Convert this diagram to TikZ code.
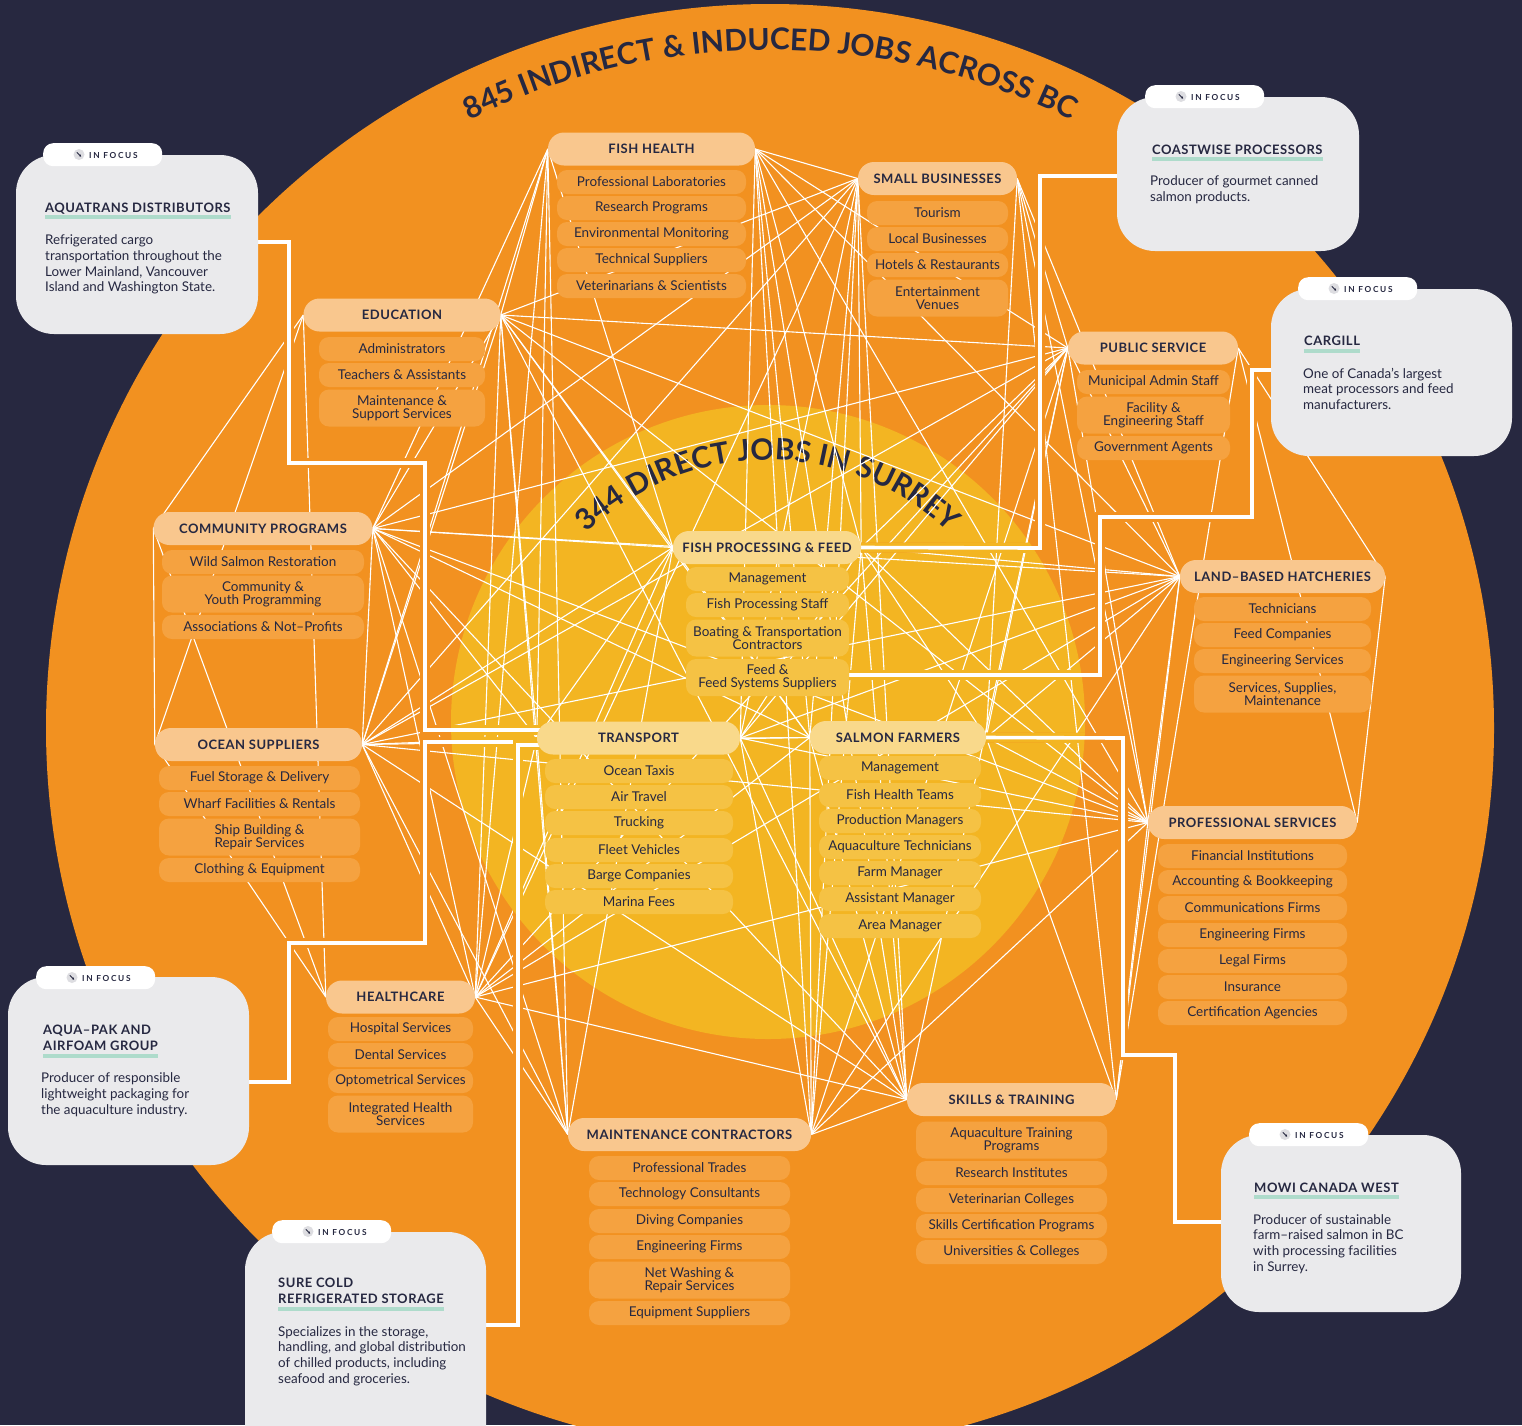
\documentclass[tikz,border=0pt]{standalone}
\usepackage{fontspec}
\setmainfont{Lato}
\usetikzlibrary{decorations.text,arrows.meta}
\definecolor{cNavy}{HTML}{272840}
\definecolor{cOrng}{HTML}{F29120}
\definecolor{cYell}{HTML}{F3B522}
\definecolor{cPeach}{HTML}{F9C78E}
\definecolor{cSubO}{HTML}{F5A240}
\definecolor{cPeachY}{HTML}{F9D98B}
\definecolor{cSubY}{HTML}{F5C244}
\definecolor{cInk}{HTML}{262841}
\definecolor{cCard}{HTML}{EAEAEC}
\definecolor{cMint}{HTML}{AEDBCB}
\definecolor{cIcon}{HTML}{DDDDE1}
\pgfdeclarelayer{bgl}
\pgfdeclarelayer{linel}
\pgfsetlayers{bgl,linel,main}
\newcommand\fHdr{\bfseries\fontsize{13}{14}\selectfont\addfontfeatures{LetterSpace=4}}
\newcommand\fSub{\fontsize{13.5}{13}\selectfont}
\newcommand\fDsc{\fontsize{13.4}{15.7}\selectfont}
\newcommand\fTag{\bfseries\fontsize{8.3}{9}\selectfont\addfontfeatures{LetterSpace=20}}
\newcommand\fArc{\bfseries\fontsize{30}{30}\selectfont}
\newcommand\fArcB{\bfseries\fontsize{29.5}{30}\selectfont}
\newcommand\fatlink[1]{%
  \draw[haloO] #1;
  \begin{scope}\clip (768,-722) circle[radius=317];\draw[haloY] #1;\end{scope}
  \draw[fatline] #1;}
\newcommand\focustag[3]{%
  \node[tagbox,anchor=north west] (#1) at (#2,#3) {};
  \node[iconball] (#1i) at ([shift={(36,-11.5)}]#1.north west) {};
  \draw[cInk,line width=0.8pt,-{Stealth[length=2.4pt,width=2.6pt]}] ([shift={(-2.2,2.2)}]#1i.center) -- ([shift={(2.2,-2.2)}]#1i.center);
  \node[tagtxt,anchor=base west] (#1t) at ([shift={(46,-15)}]#1.north west) {IN FOCUS};}
\begin{document}
\begin{tikzpicture}[x=1pt,y=1pt,
  hdr/.style={fill=cPeach,rounded corners=16pt,minimum height=33pt,inner sep=0pt,font=\fHdr,text=cInk},
  hdry/.style={hdr,fill=cPeachY},
  sub/.style={fill=cSubO,rounded corners=10pt,minimum height=24pt,inner sep=0pt,font=\fSub,text=cInk,align=center},
  subt/.style={sub,minimum height=37pt},
  suby/.style={sub,fill=cSubY},
  subty/.style={subt,fill=cSubY},
  card/.style={fill=cCard,rounded corners=38pt,inner sep=0pt},
  tagbox/.style={fill=white,rounded corners=10pt,minimum width=119pt,minimum height=23pt,inner sep=0pt},
  iconball/.style={circle,fill=cIcon,minimum size=11pt,inner sep=0pt},
  tagtxt/.style={font=\fTag,text=cInk,inner sep=0pt},
  ttl/.style={font=\fHdr,text=cInk,inner sep=0pt,anchor=base west},
  dsc/.style={font=\fDsc,text=cInk,inner sep=0pt,anchor=north west,align=left},
  uline/.style={cMint,line width=4pt},
  webline/.style={white,line width=1.1pt},
  fatline/.style={white,line width=3.6pt},
  haloO/.style={cOrng,line width=10pt},
  haloY/.style={cYell,line width=10pt}]
\useasboundingbox (0,0) rectangle (1522,-1425);
\begin{pgfonlayer}{bgl}
\fill[cNavy] (0,0) rectangle (1522,-1425);
\fill[cOrng] (770,-728) circle[radius=724];
\fill[cYell] (768,-722) circle[radius=317];
\path[decorate,decoration={text along path,text align=center,text={|\fArc\color{cInk}|845 INDIRECT {\&} INDUCED JOBS ACROSS BC}}] (770,-728) ++(130:678) arc[start angle=130,end angle=50,radius=678];
\path[decorate,decoration={text along path,text align=center,text={|\fArcB\color{cInk}|344 DIRECT JOBS IN SURREY}}] (768,-722) ++(155:262) arc[start angle=155,end angle=25,radius=262];
\end{pgfonlayer}

% FISH HEALTH
\node[hdr,minimum width=207pt] (fh) at (651.5,-149) {FISH HEALTH};
\node[sub,minimum width=189pt] (fh1) at (651.5,-182) {Professional Laboratories};
\node[sub,minimum width=189pt] (fh2) at (651.5,-208) {Research Programs};
\node[sub,minimum width=189pt] (fh3) at (651.5,-234) {Environmental Monitoring};
\node[sub,minimum width=189pt] (fh4) at (651.5,-260) {Technical Suppliers};
\node[sub,minimum width=189pt] (fh5) at (651.5,-286) {Veterinarians \& Scientists};
% SMALL BUSINESSES
\node[hdr,minimum width=159pt] (sb) at (937.5,-178.5) {SMALL BUSINESSES};
\node[sub,minimum width=141pt] (sb1) at (937.5,-213) {Tourism};
\node[sub,minimum width=141pt] (sb2) at (937.5,-239) {Local Businesses};
\node[sub,minimum width=141pt] (sb3) at (937.5,-265) {Hotels \& Restaurants};
\node[subt,minimum width=141pt] (sb4) at (937.5,-298) {Entertainment\\Venues};
% EDUCATION
\node[hdr,minimum width=197pt] (ed) at (402,-315) {EDUCATION};
\node[sub,minimum width=166pt] (ed1) at (402,-349) {Administrators};
\node[sub,minimum width=166pt] (ed2) at (402,-375) {Teachers \& Assistants};
\node[subt,minimum width=166pt] (ed3) at (402,-408) {Maintenance \&\\Support Services};
% PUBLIC SERVICE
\node[hdr,minimum width=170pt] (ps) at (1153,-348) {PUBLIC SERVICE};
\node[sub,minimum width=153pt] (ps1) at (1153.5,-382) {Municipal Admin Staff};
\node[subt,minimum width=153pt] (ps2) at (1153.5,-415) {Facility \&\\Engineering Staff};
\node[sub,minimum width=153pt] (ps3) at (1153.5,-448) {Government Agents};
% COMMUNITY PROGRAMS
\node[hdr,minimum width=219pt] (cp) at (263,-528.5) {COMMUNITY PROGRAMS};
\node[sub,minimum width=202pt] (cp1) at (263,-562) {Wild Salmon Restoration};
\node[subt,minimum width=202pt] (cp2) at (263,-594) {Community \&\\Youth Programming};
\node[sub,minimum width=202pt] (cp3) at (263,-627) {Associations \& Not–Profits};
% FISH PROCESSING & FEED
\node[hdry,minimum width=188pt] (fp) at (767,-547.5) {FISH PROCESSING \& FEED};
\node[suby,minimum width=163pt] (fp1) at (767.5,-579) {Management};
\node[suby,minimum width=163pt] (fp2) at (767.5,-605) {Fish Processing Staff};
\node[subty,minimum width=163pt] (fp3) at (767.5,-638) {Boating \& Transportation\\Contractors};
\node[subty,minimum width=163pt] (fp4) at (767.5,-677.5) {Feed \&\\Feed Systems Suppliers};
% LAND-BASED HATCHERIES
\node[hdr,minimum width=205pt] (lb) at (1282.5,-576.5) {LAND–BASED HATCHERIES};
\node[sub,minimum width=177pt] (lb1) at (1282.5,-609) {Technicians};
\node[sub,minimum width=177pt] (lb2) at (1282.5,-635) {Feed Companies};
\node[sub,minimum width=177pt] (lb3) at (1282.5,-661) {Engineering Services};
\node[subt,minimum width=177pt] (lb4) at (1282.5,-694) {Services, Supplies,\\Maintenance};
% OCEAN SUPPLIERS
\node[hdr,minimum width=207pt] (os) at (258.5,-744.5) {OCEAN SUPPLIERS};
\node[sub,minimum width=201pt] (os1) at (259.5,-778) {Fuel Storage \& Delivery};
\node[sub,minimum width=201pt] (os2) at (259.5,-804) {Wharf Facilities \& Rentals};
\node[subt,minimum width=201pt] (os3) at (259.5,-837) {Ship Building \&\\Repair Services};
\node[sub,minimum width=201pt] (os4) at (259.5,-870) {Clothing \& Equipment};
% TRANSPORT
\node[hdry,minimum width=203pt] (tr) at (638.5,-738) {TRANSPORT};
\node[suby,minimum width=188pt] (tr1) at (639,-771) {Ocean Taxis};
\node[suby,minimum width=188pt] (tr2) at (639,-797) {Air Travel};
\node[suby,minimum width=188pt] (tr3) at (639,-823) {Trucking};
\node[suby,minimum width=188pt] (tr4) at (639,-850) {Fleet Vehicles};
\node[suby,minimum width=188pt] (tr5) at (639,-876) {Barge Companies};
\node[suby,minimum width=188pt] (tr6) at (639,-902) {Marina Fees};
% SALMON FARMERS
\node[hdry,minimum width=176pt] (sf) at (898,-737.5) {SALMON FARMERS};
\node[suby,minimum width=162pt] (sf1) at (900,-768) {Management};
\node[suby,minimum width=162pt] (sf2) at (900,-795) {Fish Health Teams};
\node[suby,minimum width=162pt] (sf3) at (900,-821) {Production Managers};
\node[suby,minimum width=162pt] (sf4) at (900,-847) {Aquaculture Technicians};
\node[suby,minimum width=162pt] (sf5) at (900,-873) {Farm Manager};
\node[suby,minimum width=162pt] (sf6) at (900,-899) {Assistant Manager};
\node[suby,minimum width=162pt] (sf7) at (900,-926) {Area Manager};
% PROFESSIONAL SERVICES
\node[hdr,minimum width=209pt] (pr) at (1252.5,-822.5) {PROFESSIONAL SERVICES};
\node[sub,minimum width=189pt] (pr1) at (1252.5,-856) {Financial Institutions};
\node[sub,minimum width=189pt] (pr2) at (1252.5,-882) {Accounting \& Bookkeeping};
\node[sub,minimum width=189pt] (pr3) at (1252.5,-908) {Communications Firms};
\node[sub,minimum width=189pt] (pr4) at (1252.5,-935) {Engineering Firms};
\node[sub,minimum width=189pt] (pr5) at (1252.5,-961) {Legal Firms};
\node[sub,minimum width=189pt] (pr6) at (1252.5,-987) {Insurance};
\node[sub,minimum width=189pt] (pr7) at (1252.5,-1013) {Certification Agencies};
% HEALTHCARE
\node[hdr,minimum width=149pt] (hc) at (400.5,-997) {HEALTHCARE};
\node[sub,minimum width=145pt] (hc1) at (400.5,-1029) {Hospital Services};
\node[sub,minimum width=145pt] (hc2) at (400.5,-1055) {Dental Services};
\node[sub,minimum width=145pt] (hc3) at (400.5,-1081) {Optometrical Services};
\node[subt,minimum width=145pt] (hc4) at (400.5,-1114) {Integrated Health\\Services};
% SKILLS & TRAINING
\node[hdr,minimum width=209pt] (st) at (1011.5,-1099.5) {SKILLS \& TRAINING};
\node[subt,minimum width=191pt] (st1) at (1011.5,-1140) {Aquaculture Training\\Programs};
\node[sub,minimum width=191pt] (st2) at (1011.5,-1173) {Research Institutes};
\node[sub,minimum width=191pt] (st3) at (1011.5,-1200) {Veterinarian Colleges};
\node[sub,minimum width=191pt] (st4) at (1011.5,-1226) {Skills Certification Programs};
\node[sub,minimum width=191pt] (st5) at (1011.5,-1252) {Universities \& Colleges};
% MAINTENANCE CONTRACTORS
\node[hdr,minimum width=243pt] (mc) at (689.5,-1134.5) {MAINTENANCE CONTRACTORS};
\node[sub,minimum width=201pt] (mc1) at (689.5,-1168) {Professional Trades};
\node[sub,minimum width=201pt] (mc2) at (689.5,-1194) {Technology Consultants};
\node[sub,minimum width=201pt] (mc3) at (689.5,-1221) {Diving Companies};
\node[sub,minimum width=201pt] (mc4) at (689.5,-1247) {Engineering Firms};
\node[subt,minimum width=201pt] (mc5) at (689.5,-1280) {Net Washing \&\\Repair Services};
\node[sub,minimum width=201pt] (mc6) at (689.5,-1313) {Equipment Suppliers};

% IN FOCUS cards
\node[card,minimum width=242pt,minimum height=179pt] (aq) at (137,-244.5) {};
\node[card,minimum width=242pt,minimum height=154pt] (cw) at (1238,-174) {};
\node[card,minimum width=241pt,minimum height=167pt] (cg) at (1391.5,-372.5) {};
\node[card,minimum width=241pt,minimum height=188pt] (ap) at (128.5,-1071) {};
\node[card,minimum width=241pt,minimum height=238pt] (sc) at (365.5,-1351) {};
\node[card,minimum width=240pt,minimum height=177pt] (mw) at (1341,-1223.5) {};
\focustag{aqtag}{43}{-143}
\focustag{cwtag}{1145}{-85}
\focustag{cgtag}{1298}{-277}
\focustag{aptag}{36}{-966}
\focustag{sctag}{272}{-1220}
\focustag{mwtag}{1249}{-1123}

\node[ttl] (aqT) at (45,-212) {AQUATRANS DISTRIBUTORS};
\draw[uline] ([yshift=-5pt]aqT.base west) -- ([yshift=-5pt]aqT.base east);
\node[dsc] (aqD) at (45,-234.7) {Refrigerated cargo\\transportation throughout the\\Lower Mainland, Vancouver\\Island and Washington State.};

\node[ttl] (cwT) at (1152,-154) {COASTWISE PROCESSORS};
\draw[uline] ([yshift=-5pt]cwT.base west) -- ([yshift=-5pt]cwT.base east);
\node[dsc] (cwD) at (1150,-175.7) {Producer of gourmet canned\\salmon products.};

\node[ttl] (cgT) at (1304,-345) {CARGILL};
\draw[uline] ([yshift=-6pt]cgT.base west) -- ([yshift=-6pt]cgT.base east);
\node[dsc] (cgD) at (1303,-367.7) {One of Canada’s largest\\meat processors and feed\\manufacturers.};

\node[ttl] (apT1) at (43,-1034) {AQUA–PAK AND};
\node[ttl] (apT2) at (43,-1050) {AIRFOAM GROUP};
\draw[uline] ([yshift=-6pt]apT2.base west) -- ([yshift=-6pt]apT2.base east);
\node[dsc] (apD) at (41,-1072.7) {Producer of responsible\\lightweight packaging for\\the aquaculture industry.};

\node[ttl] (scT1) at (278,-1287) {SURE COLD};
\node[ttl] (scT2) at (278,-1303) {REFRIGERATED STORAGE};
\draw[uline] ([yshift=-6pt]scT2.base west) -- ([yshift=-6pt]scT2.base east);
\node[dsc] (scD) at (278,-1326) {Specializes in the storage,\\handling, and global distribution\\of chilled products, including\\seafood and groceries.};

\node[ttl] (mwT) at (1254,-1192) {MOWI CANADA WEST};
\draw[uline] ([yshift=-5pt]mwT.base west) -- ([yshift=-5pt]mwT.base east);
\node[dsc] (mwD) at (1253,-1214) {Producer of sustainable\\farm–raised salmon in BC\\with processing facilities\\in Surrey.};

\begin{pgfonlayer}{linel}
\foreach \a/\b in {os/cp,os/hc,os/ed,cp/hc,cp/ed,hc/ed,tr/fh,tr/mc,tr/fp,fh/mc,fh/fp,mc/fp,fp/sf,sf/sb,sf/st,sb/st,st/ps,ps/pr,ps/lb,pr/lb}{
  \draw[webline] (\a.west) -- (\b.west);
  \draw[webline] (\a.east) -- (\b.east);}
\foreach \a in {os,cp,hc,ed}{\foreach \b in {tr,fh,mc,fp,sf,sb,st,ps,pr,lb}{\draw[webline] (\a.east) -- (\b.west);}}
\foreach \a in {tr,fh,mc}{\foreach \b in {sf,sb,st,ps,pr,lb}{\draw[webline] (\a.east) -- (\b.west);}}
\foreach \b in {sb,st,ps,pr,lb}{\draw[webline] (fp.east) -- (\b.west);}
\foreach \a in {sf,sb}{\foreach \b in {ps,pr,lb}{\draw[webline] (\a.east) -- (\b.west);}}
\foreach \b in {pr,lb}{\draw[webline] (st.east) -- (\b.west);}
\fatlink{(aq.east |- 0,-242) -| (289,-463) -| (425,-730) -- (545,-730)}
\fatlink{(ap.east |- 0,-1082) -| (289,-943) -| (425,-742) -- (545,-742)}
\fatlink{(sc.east |- 0,-1325) -| (518,-745) -- (545,-745)}
\fatlink{(cw.west |- 0,-176) -| (1040,-548) -- (fp.east)}
\fatlink{(cg.west |- 0,-370) -| (1252,-517) -| (1100,-675) -- (fp4.east |- 0,-675)}
\fatlink{(mw.west |- 0,-1222) -| (1175,-1055) -| (1123,-738) -- (sf.east)}
\end{pgfonlayer}
\end{tikzpicture}
\end{document}
